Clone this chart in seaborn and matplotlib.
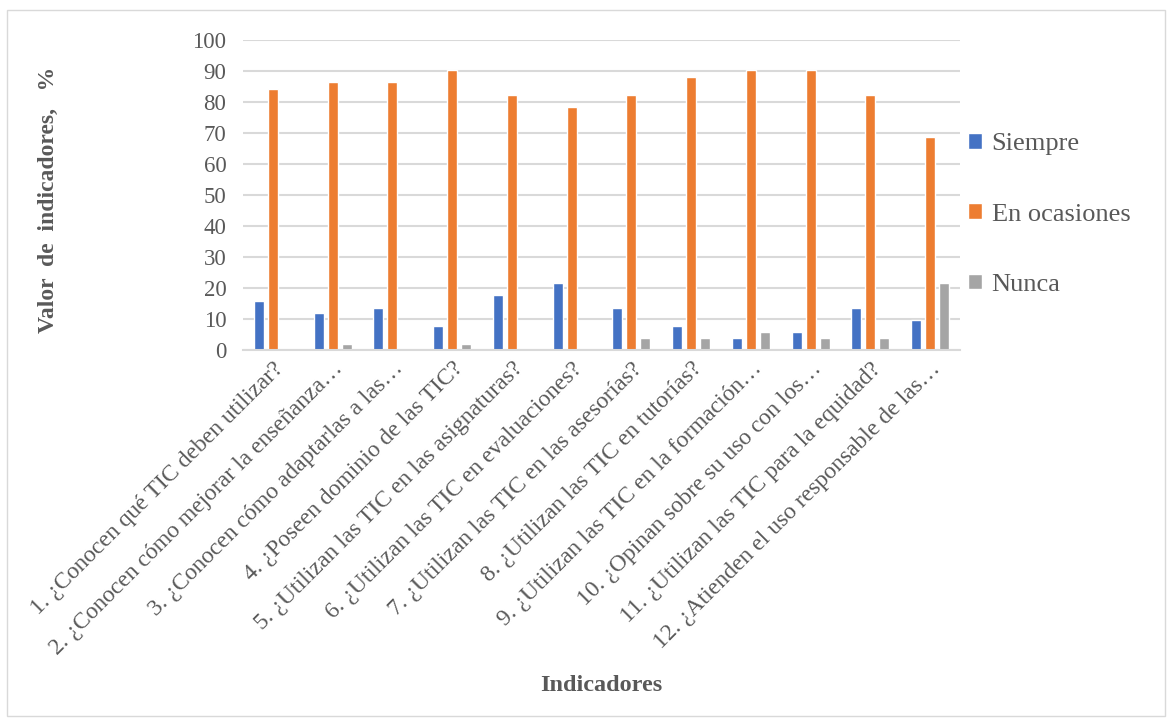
import pandas as pd
import seaborn as sns
import matplotlib.pyplot as plt
from matplotlib.patches import Rectangle

indicadores = [
    "1. ¿Conocen qué TIC deben utilizar?",
    "2. ¿Conocen cómo mejorar la enseñanza…",
    "3. ¿Conocen cómo adaptarlas a las…",
    "4. ¿Poseen dominio de las TIC?",
    "5. ¿Utilizan las TIC en las asignaturas?",
    "6. ¿Utilizan las TIC en evaluaciones?",
    "7. ¿Utilizan las TIC en las asesorías?",
    "8. ¿Utilizan las TIC en tutorías?",
    "9. ¿Utilizan las TIC en la formación…",
    "10. ¿Opinan sobre su uso con los…",
    "11. ¿Utilizan las TIC para la equidad?",
    "12. ¿Atienden el uso responsable de las…",
]
siempre = [15.7, 11.8, 13.7, 7.8, 17.6, 21.6, 13.7, 7.8, 3.9, 5.9, 13.7, 9.8]
en_ocasiones = [84.3, 86.3, 86.3, 90.2, 82.4, 78.4, 82.4, 88.2, 90.2, 90.2, 82.4, 68.6]
nunca = [0.0, 2.0, 0.0, 2.0, 0.0, 0.0, 3.9, 3.9, 5.9, 3.9, 3.9, 21.6]
series = ["Siempre", "En ocasiones", "Nunca"]
colores = ["#4472C4", "#ED7D31", "#A5A5A5"]

df = pd.DataFrame({"Indicador": indicadores, "Siempre": siempre,
                   "En ocasiones": en_ocasiones, "Nunca": nunca})
df = df.melt(id_vars="Indicador", var_name="Serie", value_name="Valor")

sns.set_style("white")
plt.rcParams["font.family"] = ["Liberation Serif", "DejaVu Serif"]
gris = "#595959"

fig = plt.figure(figsize=(11.74, 7.24), dpi=100)
ax = fig.add_axes([243 / 1174, 1 - 350 / 724, (960 - 243) / 1174, 310 / 724])
sns.barplot(df, x="Indicador", y="Valor", hue="Serie", hue_order=series,
            palette=colores, width=0.7, gap=0.28, saturation=1, ax=ax)

ax.set_ylim(0, 100)
ax.set_yticks(range(0, 101, 10))
ax.yaxis.grid(True, color="#d9d9d9", linewidth=1.5)
ax.set_axisbelow(True)
for s in ["top", "right", "left"]:
    ax.spines[s].set_visible(False)
ax.spines["bottom"].set_color("#d9d9d9")
ax.spines["bottom"].set_linewidth(1.5)
ax.tick_params(axis="both", length=0, colors=gris)
ax.tick_params(axis="y", pad=12, labelsize=16.5)
ax.tick_params(axis="x", pad=6, labelsize=17)
plt.setp(ax.get_xticklabels(), rotation=45, ha="right", rotation_mode="anchor")
ax.set_xlabel("Indicadores", fontsize=17.5, fontweight="bold", color=gris)
ax.set_ylabel("Valor  de  indicadores,   %", fontsize=17, fontweight="bold", color=gris)
ax.xaxis.set_label_coords(0.5, -1.048)
ax.yaxis.set_label_coords(-0.257, 0.485)

ax.legend(loc="center left", bbox_to_anchor=(0.997, 0.437), frameon=False,
          fontsize=19, labelcolor=gris, handlelength=0.53, handleheight=0.53,
          handletextpad=0.35, labelspacing=1.82, borderaxespad=0)

fig.patches.append(Rectangle((7 / 1174, 8 / 724), 1158 / 1174, 706 / 724,
                             transform=fig.transFigure, fill=False,
                             edgecolor="#d9d9d9", linewidth=1))
fig.savefig("out.png", dpi=100)
